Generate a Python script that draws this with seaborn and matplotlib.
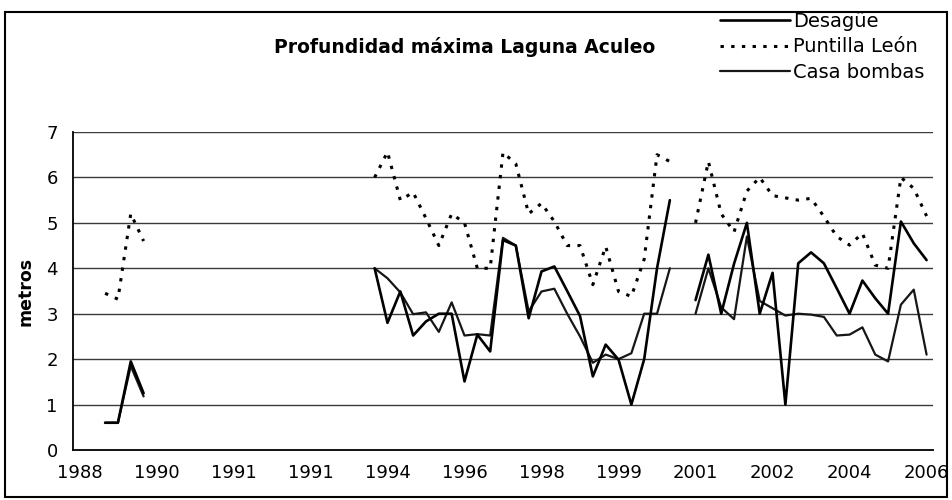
import numpy as np
import pandas as pd
import matplotlib
matplotlib.use('Agg')
import matplotlib.pyplot as plt
from matplotlib.lines import Line2D
from matplotlib.patches import Rectangle
import seaborn as sns

nan = np.nan

# eje de categorias (como en Excel): 67 fechas de medicion, etiqueta cada 6
n_cat = 67
year_labels = ['1988', '1990', '1991', '1991', '1994', '1996',
               '1998', '1999', '2001', '2002', '2004', '2006']

desague = [nan, nan, 0.6, 0.6, 1.95, 1.25] + [nan] * 17 + [
    4.0, 2.8, 3.49, 2.52, 2.83, 3.0, 3.0, 1.51, 2.54, 2.17, 4.62, 4.5,
    2.9, 3.93, 4.04, 3.5, 2.95, 1.62, 2.32, 1.99, 1.0, 2.0, 4.0, 5.5,
    nan,
    3.3, 4.3, 3.0, 4.1, 5.0, 3.0, 3.9, 1.0, 4.11, 4.35, 4.11, 3.56,
    3.0, 3.73, 3.34, 3.0, 5.03, 4.55, 4.18]

puntilla = [nan, nan, 3.45, 3.32, 5.2, 4.6] + [nan] * 17 + [
    6.0, 6.56, 5.5, 5.67, 5.1, 4.5, 5.2, 5.0, 4.0, 4.0, 6.55, 6.3,
    5.2, 5.43, 5.03, 4.5, 4.5, 3.64, 4.48, 3.49, 3.38, 4.2, 6.5, 6.35,
    nan,
    5.0, 6.35, 5.2, 4.8, 5.7, 6.0, 5.6, 5.55, 5.5, 5.54, 5.14, 4.7,
    4.51, 4.77, 4.07, 4.0, 6.0, 5.76, 5.15]

casa = [nan, nan, 0.6, 0.6, 1.85, 1.18] + [nan] * 17 + [
    4.0, 3.78, 3.47, 2.99, 3.03, 2.6, 3.25, 2.52, 2.55, 2.52, 4.67, 4.5,
    3.05, 3.49, 3.55, 3.0, 2.5, 1.92, 2.1, 2.0, 2.13, 3.0, 3.0, 4.0,
    nan,
    3.0, 4.0, 3.14, 2.88, 4.7, 3.28, 3.12, 2.96, 3.0, 2.98, 2.93, 2.52,
    2.54, 2.7, 2.1, 1.95, 3.2, 3.53, 2.1]

series = {'Desagüe': desague, 'Puntilla León': puntilla, 'Casa bombas': casa}
styles = {
    'Desagüe': dict(color='black', linewidth=1.9, linestyle='-'),
    'Puntilla León': dict(color='black', linewidth=2.2, linestyle=(0, (1.1, 2.4))),
    'Casa bombas': dict(color='#161616', linewidth=1.6, linestyle='-'),
}


def to_long(name, values):
    s = pd.Series(values, dtype=float)
    d = pd.DataFrame({'idx': np.arange(n_cat), 'metros': s,
                      'seg': s.isna().cumsum(), 'serie': name})
    return d.dropna()


df = pd.concat([to_long(k, v) for k, v in series.items()], ignore_index=True)

sns.set_style('white')
plt.rcParams['font.family'] = ['DejaVu Sans']
plt.rcParams['text.color'] = 'black'
plt.rcParams['axes.labelcolor'] = 'black'
plt.rcParams['xtick.color'] = 'black'
plt.rcParams['ytick.color'] = 'black'

fig, ax = plt.subplots(figsize=(9.52, 5.0), dpi=100)
fig.subplots_adjust(left=73 / 952, right=933 / 952, bottom=0.1, top=1 - 132 / 500)

# lineas horizontales de la grilla
for v in range(1, 8):
    ax.axhline(v, color='#3a3a3a', linewidth=1.0, zorder=0)

# dibujar cada serie (units = tramos, para dejar los huecos sin datos)
for name in ['Puntilla León', 'Casa bombas', 'Desagüe']:
    sns.lineplot(data=df[df['serie'] == name], x='idx', y='metros', units='seg',
                 estimator=None, sort=False, ax=ax, legend=False, **styles[name])

ax.set_xlim(-0.5, n_cat - 0.5)
ax.set_ylim(0, 7)
ax.set_yticks(range(0, 8))
ax.set_xticks(range(0, n_cat, 6))
ax.set_xticklabels(year_labels)
ax.set_xticks(np.arange(-0.5, n_cat - 1, 2), minor=True)
ax.tick_params(axis='x', which='major', length=0, pad=10, labelsize=13)
ax.tick_params(axis='x', which='minor', length=6, width=1.2, direction='out', color='black')
ax.tick_params(axis='y', length=5, width=1.2, direction='out', color='black', pad=6, labelsize=13)
ax.set_xlabel('')
ax.set_ylabel('metros', fontsize=12.5, weight='bold')
ax.yaxis.set_label_coords(-0.045, 0.5)

for side in ['top', 'right']:
    ax.spines[side].set_visible(False)
for side in ['left', 'bottom']:
    ax.spines[side].set_color('black')
    ax.spines[side].set_linewidth(1.3)

fig.text(465 / 952, 1 - 47 / 500, 'Profundidad máxima Laguna Aculeo',
         ha='center', va='center', fontsize=13.5, weight='bold')

handles = [Line2D([], [], **styles[k]) for k in series]
ax.legend(handles, list(series.keys()), loc='upper left',
          bbox_to_anchor=(720 / 952, 1 - 12 / 500), bbox_transform=fig.transFigure,
          frameon=False, fontsize=14, handlelength=3.6, handletextpad=0.15,
          labelspacing=0.33, borderaxespad=0, borderpad=0)

# borde exterior del grafico
fig.add_artist(Rectangle((0.005, 0.006), 0.99, 0.97, transform=fig.transFigure,
                         fill=False, edgecolor='black', linewidth=1.5))

fig.savefig('out.png', dpi=100)
